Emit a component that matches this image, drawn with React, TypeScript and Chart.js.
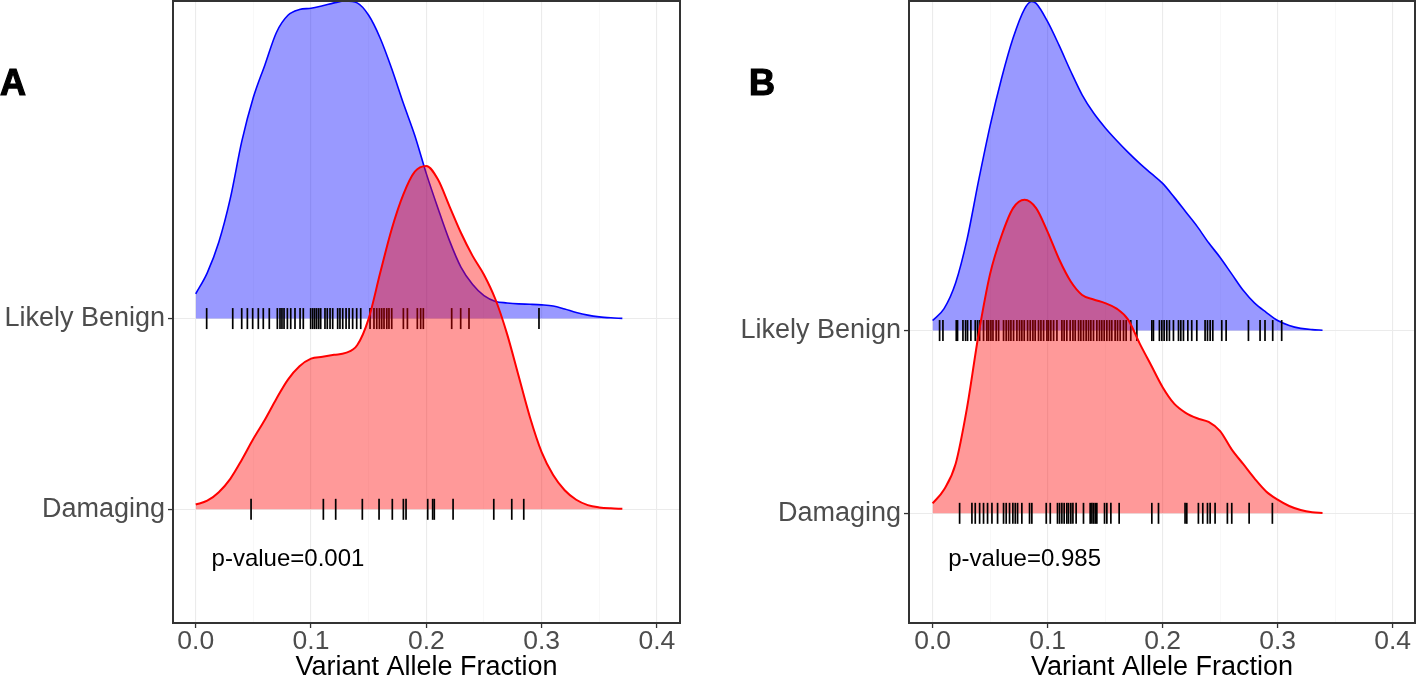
import React, { useEffect, useRef } from 'react';
import { Chart, registerables } from 'chart.js';

Chart.register(...registerables);

const FONT = '"Liberation Sans", Arial, Helvetica, sans-serif';

// y categories: value 1 = Damaging, value 2 = Likely Benign
const categories = ['Damaging', 'Likely Benign'];
const xTickValues = [0, 0.05, 0.1, 0.15, 0.2, 0.25, 0.3, 0.35, 0.4];
const xAxisTitle = 'Variant Allele Fraction';
const panelLabels = ['A', 'B'];
const pValueTexts = ['p-value=0.001', 'p-value=0.985'];

// Density ridge heights [VAF, height above baseline]
const aBenignDensity = [
  [0, 0.13], [0.01, 0.24], [0.02, 0.4], [0.03, 0.63], [0.04, 0.93], [0.05, 1.16], [0.06, 1.33],
  [0.07, 1.5], [0.08, 1.59], [0.09, 1.62], [0.1, 1.627], [0.11, 1.64], [0.12, 1.655], [0.13, 1.665],
  [0.14, 1.655], [0.15, 1.59], [0.16, 1.47], [0.17, 1.31], [0.18, 1.13], [0.19, 0.96], [0.2, 0.76],
  [0.21, 0.58], [0.22, 0.41], [0.23, 0.27], [0.24, 0.18], [0.25, 0.12], [0.26, 0.09], [0.27, 0.082],
  [0.28, 0.077], [0.29, 0.075], [0.3, 0.072], [0.31, 0.066], [0.32, 0.05], [0.33, 0.032],
  [0.34, 0.018], [0.35, 0.009], [0.36, 0.004], [0.37, 0.001],
];
const aDamagingDensity = [
  [0, 0.025], [0.01, 0.045], [0.02, 0.09], [0.03, 0.16], [0.04, 0.26], [0.05, 0.37], [0.06, 0.47],
  [0.07, 0.58], [0.08, 0.68], [0.09, 0.75], [0.1, 0.79], [0.11, 0.8], [0.12, 0.81], [0.13, 0.82],
  [0.14, 0.86], [0.15, 1.0], [0.16, 1.24], [0.17, 1.47], [0.18, 1.65], [0.19, 1.77], [0.2, 1.8],
  [0.21, 1.73], [0.22, 1.59], [0.23, 1.45], [0.24, 1.33], [0.25, 1.23], [0.26, 1.1], [0.27, 0.92],
  [0.28, 0.7], [0.29, 0.48], [0.3, 0.3], [0.31, 0.18], [0.32, 0.1], [0.33, 0.05], [0.34, 0.022],
  [0.35, 0.01], [0.36, 0.005], [0.37, 0.003],
];
const bBenignDensity = [
  [0, 0.055], [0.01, 0.12], [0.02, 0.26], [0.03, 0.5], [0.04, 0.82], [0.05, 1.12], [0.06, 1.38],
  [0.07, 1.6], [0.08, 1.76], [0.086, 1.8], [0.09, 1.79], [0.1, 1.69], [0.11, 1.56], [0.12, 1.42],
  [0.13, 1.29], [0.14, 1.19], [0.15, 1.11], [0.16, 1.04], [0.17, 0.975], [0.18, 0.915], [0.19, 0.86],
  [0.2, 0.805], [0.21, 0.73], [0.22, 0.65], [0.23, 0.57], [0.24, 0.48], [0.25, 0.4], [0.26, 0.31],
  [0.27, 0.22], [0.28, 0.15], [0.29, 0.1], [0.3, 0.055], [0.31, 0.028], [0.32, 0.012],
  [0.33, 0.005], [0.339, 0.002],
];
const bDamagingDensity = [
  [0, 0.054], [0.01, 0.13], [0.02, 0.27], [0.03, 0.58], [0.04, 0.98], [0.05, 1.31], [0.06, 1.52],
  [0.07, 1.67], [0.08, 1.716], [0.09, 1.67], [0.1, 1.54], [0.11, 1.39], [0.12, 1.27], [0.13, 1.195],
  [0.14, 1.17], [0.15, 1.15], [0.16, 1.12], [0.17, 1.06], [0.18, 0.93], [0.19, 0.81], [0.2, 0.69],
  [0.21, 0.6], [0.22, 0.55], [0.23, 0.52], [0.24, 0.5], [0.25, 0.45], [0.26, 0.35], [0.27, 0.27],
  [0.28, 0.19], [0.29, 0.12], [0.3, 0.075], [0.31, 0.04], [0.32, 0.018], [0.33, 0.006],
  [0.339, 0.002],
];

// Rug (individual variant VAF values)
const aBenignRug = [
  0.0095, 0.0321, 0.0399, 0.0448, 0.0494, 0.0543, 0.0586, 0.0638, 0.0708, 0.0731, 0.0748, 0.0766,
  0.0795, 0.0824, 0.0861, 0.0905, 0.0933, 0.0997, 0.1015, 0.1032, 0.1049, 0.1067, 0.1084, 0.1121,
  0.1141, 0.1165, 0.1188, 0.1231, 0.1251, 0.1275, 0.1304, 0.133, 0.1361, 0.1396, 0.1431, 0.1512,
  0.1546, 0.157, 0.1593, 0.1613, 0.1633, 0.1657, 0.1676, 0.17, 0.1801, 0.1836, 0.1922, 0.1951,
  0.1974, 0.222, 0.2298, 0.237, 0.2977,
];
const aDamagingRug = [
  0.048, 0.1107, 0.1214, 0.1445, 0.159, 0.1705, 0.1801, 0.1824, 0.2012, 0.2055, 0.2069, 0.2232,
  0.2585, 0.2741, 0.2845,
];
const bBenignRug = [
  0.0061, 0.009, 0.0206, 0.0217, 0.0264, 0.0287, 0.0304, 0.0333, 0.0371, 0.0391, 0.0409, 0.0443,
  0.0472, 0.0487, 0.0507, 0.0525, 0.0553, 0.0574, 0.0617, 0.064, 0.0661, 0.0681, 0.0704, 0.0733,
  0.0756, 0.0776, 0.0797, 0.0826, 0.0849, 0.0872, 0.0892, 0.0921, 0.0942, 0.0965, 0.0994, 0.1008,
  0.1028, 0.1052, 0.1081, 0.1124, 0.1144, 0.1167, 0.1196, 0.122, 0.124, 0.1269, 0.1289, 0.1312,
  0.1335, 0.1356, 0.1376, 0.1399, 0.1428, 0.1451, 0.1471, 0.1492, 0.1515, 0.1538, 0.1558, 0.1587,
  0.1608, 0.1631, 0.166, 0.1683, 0.1723, 0.1776, 0.1906, 0.192, 0.1972, 0.1993, 0.2013, 0.2036,
  0.2059, 0.2094, 0.2138, 0.2158, 0.2181, 0.2219, 0.2253, 0.2297, 0.2369, 0.239, 0.2413, 0.2436,
  0.2514, 0.2552, 0.2746, 0.2847, 0.289, 0.2957, 0.3035,
];
const bDamagingRug = [
  0.0235, 0.0342, 0.0371, 0.0409, 0.0443, 0.0478, 0.0516, 0.0565, 0.0617, 0.064, 0.0669, 0.0698,
  0.0719, 0.0739, 0.0776, 0.0843, 0.0863, 0.0988, 0.1023, 0.1086, 0.1104, 0.1124, 0.1144, 0.1167,
  0.1182, 0.1202, 0.122, 0.1248, 0.1312, 0.137, 0.1385, 0.1399, 0.1414, 0.1428, 0.1495, 0.1515,
  0.155, 0.1622, 0.1906, 0.1964, 0.2195, 0.221, 0.2311, 0.2349, 0.239, 0.2413, 0.2456, 0.2563,
  0.2601, 0.2752, 0.2954,
];

const isMajor = (v: number) => Math.abs(v * 10 - Math.round(v * 10)) < 1e-6;

const framePlugin = {
  id: 'frame',
  afterDraw(chart: any, _args: any, opts: any) {
    const { ctx, chartArea, scales } = chart;
    const { left, top, right, bottom } = chartArea;
    ctx.save();
    ctx.strokeStyle = '#333333';
    ctx.lineWidth = 2;
    ctx.strokeRect(left, top, right - left, bottom - top);
    ctx.fillStyle = '#000000';
    ctx.font = `24px ${FONT}`;
    ctx.textAlign = 'center';
    ctx.textBaseline = 'alphabetic';
    ctx.fillText(opts.pText, scales.x.getPixelForValue(opts.pX), scales.y.getPixelForValue(opts.pY));
    ctx.font = `bold 36px ${FONT}`;
    ctx.textAlign = 'left';
    ctx.lineWidth = 1.2;
    ctx.strokeStyle = '#000000';
    ctx.fillText(opts.panel, opts.panelX, 95);
    ctx.strokeText(opts.panel, opts.panelX, 95);
    ctx.restore();
  },
};

type PanelCfg = {
  panel: string;
  panelX: number;
  pText: string;
  pY: number;
  benign: number[][];
  damaging: number[][];
  benignRug: number[];
  damagingRug: number[];
  xMin: number;
  xMax: number;
  yMin: number;
  yMax: number;
  axisWidth: number;
  padRight: number;
  left: number;
  width: number;
};

const panels: PanelCfg[] = [
  {
    panel: panelLabels[0], panelX: 0, pText: pValueTexts[0], pY: 0.703,
    benign: aBenignDensity, damaging: aDamagingDensity,
    benignRug: aBenignRug, damagingRug: aDamagingRug,
    xMin: -0.0197, xMax: 0.42, yMin: 0.404, yMax: 3.665,
    axisWidth: 173, padRight: 20, left: 0, width: 700,
  },
  {
    panel: panelLabels[1], panelX: 49, pText: pValueTexts[1], pY: 0.71,
    benign: bBenignDensity, damaging: bDamagingDensity,
    benignRug: bBenignRug, damagingRug: bDamagingRug,
    xMin: -0.0205, xMax: 0.4194, yMin: 0.4, yMax: 3.803,
    axisWidth: 209, padRight: 2, left: 700, width: 717,
  },
];

function densityDataset(dens: number[][], base: number, color: string, fillColor: string, width: number, order: number) {
  return {
    type: 'line',
    data: dens.map(([x, h]) => ({ x, y: base + h })),
    borderColor: color,
    borderWidth: width,
    backgroundColor: fillColor,
    fill: { value: base },
    pointRadius: 0,
    cubicInterpolationMode: 'monotone',
    order,
  };
}

function rugDataset(rug: number[], base: number, order: number) {
  return {
    type: 'line',
    showLine: false,
    data: rug.map((x) => ({ x, y: base })),
    pointStyle: 'line',
    pointRotation: 90,
    pointRadius: 10.5,
    pointBorderColor: '#000000',
    pointBackgroundColor: '#000000',
    pointBorderWidth: 1.7,
    order,
  };
}

function Panel({ cfg }: { cfg: PanelCfg }) {
  const ref = useRef<HTMLCanvasElement | null>(null);
  useEffect(() => {
    if (!ref.current) return;
    const chart = new Chart(ref.current, {
      type: 'line',
      data: {
        datasets: [
          rugDataset(cfg.damagingRug, 1, 0),
          densityDataset(cfg.damaging, 1, '#FF0000', 'rgba(255,0,0,0.4)', 2, 1),
          rugDataset(cfg.benignRug, 2, 2),
          densityDataset(cfg.benign, 2, '#0000FF', 'rgba(0,0,255,0.4)', 1.6, 3),
        ] as any,
      },
      options: {
        animation: false,
        responsive: false,
        devicePixelRatio: 1,
        events: [],
        layout: { autoPadding: false, padding: { left: 0, right: cfg.padRight, top: 1, bottom: 0 } },
        plugins: {
          legend: { display: false },
          tooltip: { enabled: false },
          frame: { panel: cfg.panel, panelX: cfg.panelX, pText: cfg.pText, pX: 0.08, pY: cfg.pY },
        } as any,
        scales: {
          x: {
            type: 'linear',
            min: cfg.xMin,
            max: cfg.xMax,
            afterBuildTicks: (s: any) => { s.ticks = xTickValues.map((v) => ({ value: v })); },
            afterFit: (s: any) => {
              s.height = 55;
              s.paddingLeft = 0;
              s.paddingRight = 0;
              s.paddingTop = 0;
              s.paddingBottom = 0;
            },
            ticks: {
              autoSkip: false,
              maxRotation: 0,
              color: '#4D4D4D',
              padding: 0,
              font: { family: FONT, size: 26.5, lineHeight: 1 },
              callback: (v: any) => (isMajor(Number(v)) ? Number(v).toFixed(1) : ''),
            },
            grid: {
              color: (c: any) => (c.tick && isMajor(c.tick.value) ? '#EBEBEB' : '#F4F4F4'),
              lineWidth: (c: any) => (c.tick && isMajor(c.tick.value) ? 1.1 : 0.6),
              tickLength: 5,
              tickWidth: (c: any) => (c.tick && isMajor(c.tick.value) ? 1.3 : 0),
              tickColor: (c: any) => (c.tick && isMajor(c.tick.value) ? '#333333' : 'rgba(0,0,0,0)'),
            },
            border: { display: false },
            title: {
              display: true,
              text: xAxisTitle,
              color: '#000000',
              font: { family: FONT, size: 27, lineHeight: 1 },
              padding: { top: 0, bottom: -3.5 },
            },
          },
          y: {
            type: 'linear',
            min: cfg.yMin,
            max: cfg.yMax,
            afterBuildTicks: (s: any) => { s.ticks = categories.map((_, i) => ({ value: i + 1 })); },
            afterFit: (s: any) => {
              s.width = cfg.axisWidth;
              s.paddingLeft = 0;
              s.paddingRight = 0;
              s.paddingTop = 0;
              s.paddingBottom = 0;
            },
            ticks: {
              autoSkip: false,
              color: '#4D4D4D',
              padding: 3,
              font: { family: FONT, size: 27 },
              callback: (v: any) => categories[Math.round(Number(v)) - 1] ?? '',
            },
            grid: {
              color: '#EBEBEB',
              lineWidth: 1.1,
              tickLength: 5,
              tickWidth: 1.3,
              tickColor: '#333333',
            },
            border: { display: false },
          },
        } as any,
      },
      plugins: [framePlugin as any],
    });
    return () => chart.destroy();
  }, [cfg]);
  return (
    <canvas
      ref={ref}
      width={cfg.width}
      height={678}
      style={{ position: 'absolute', left: cfg.left, top: 0, width: cfg.width, height: 678, display: 'block' }}
    />
  );
}

export default function App() {
  return (
    <div
      style={{
        position: 'fixed',
        left: 0,
        top: 0,
        width: 1417,
        height: 678,
        background: '#ffffff',
        overflow: 'hidden',
      }}
    >
      {panels.map((p) => (
        <Panel key={p.panel} cfg={p} />
      ))}
    </div>
  );
}
